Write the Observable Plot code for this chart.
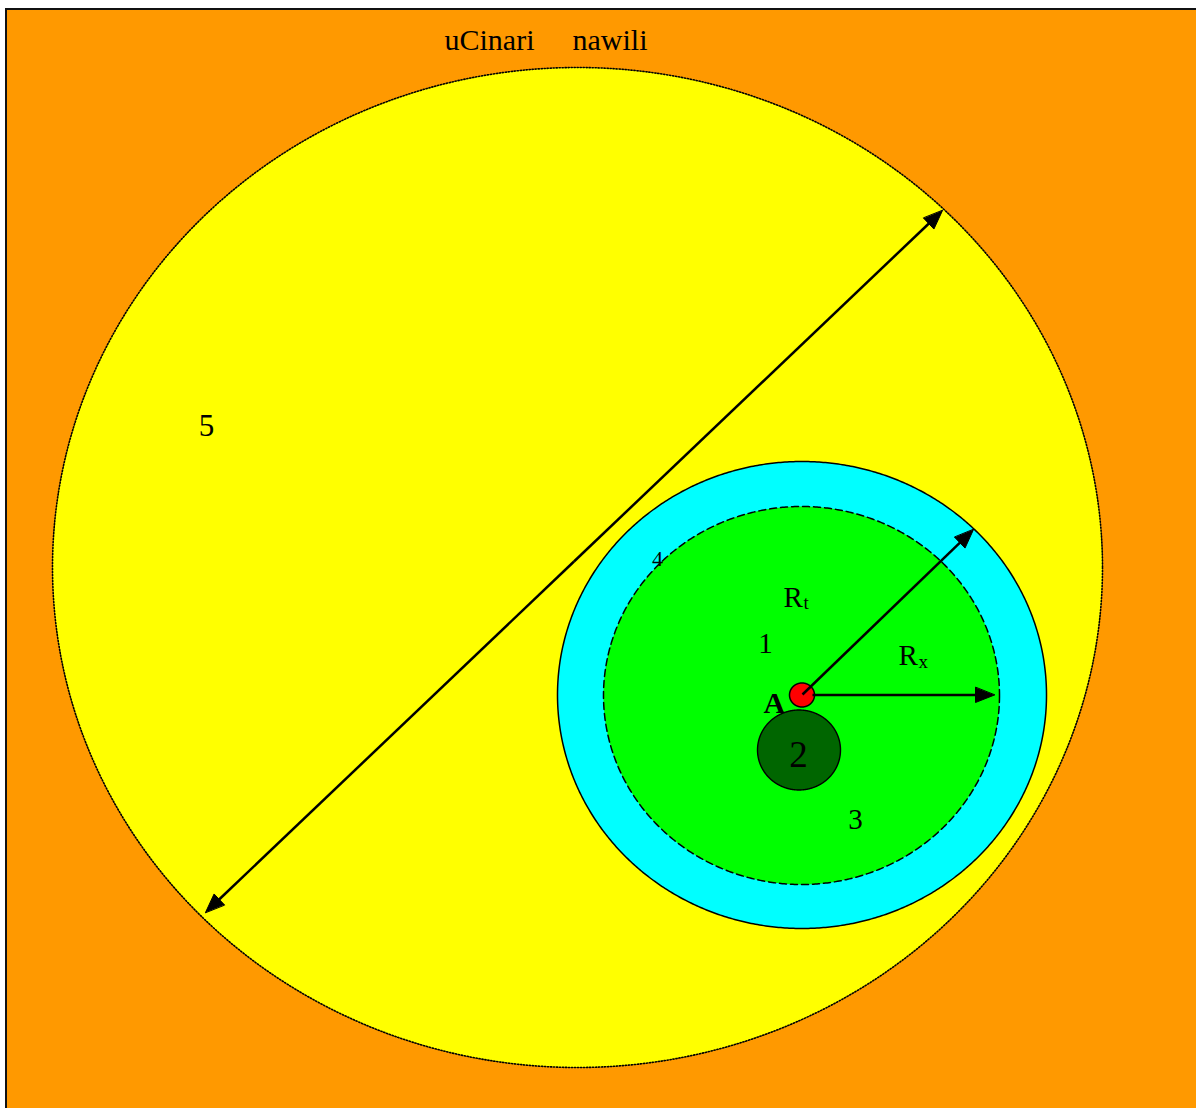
<!DOCTYPE html>
<html>
<head>
<meta charset="utf-8">
<script src="https://cdn.jsdelivr.net/npm/d3@7"></script>
<script src="https://cdn.jsdelivr.net/npm/@observablehq/plot@0.6"></script>
<style>
  html, body { margin: 0; padding: 0; background: #ffffff; }
  svg { display: block; }
</style>
</head>
<body>
<script>
// ---------- data (diagram geometry, in picture units) ----------
const shapeNames   = ["zone5", "zone4", "zone3", "sourceA", "zone2"];
const shapeCx      = [577, 801.5, 801, 801.5, 798.5];
const shapeCy      = [567, 694.5, 695, 694.5, 749.5];
const shapeRx      = [525, 244.5, 198, 12.5, 41.5];
const shapeRy      = [500, 233.5, 189, 12, 40];
const shapeFill    = ["#FFFF00", "#00FFFF", "#00FF00", "#FF0000", "#006600"];
const shapeDash    = ["1.2,1.8", null, "7,4", null, null];

const arrowNames   = ["diameter+", "diameter-", "Rt", "Rx"];
const arrowX1      = [573.5, 573.5, 802, 812];
const arrowY1      = [561, 561, 694, 694.5];
const arrowX2      = [942, 205, 973, 994];
const arrowY2      = [210, 912, 529, 694.5];

const labelText    = ["uCinari", "nawili", "5", "4", "R", "t", "1", "R", "x", "A", "2", "3"];
const labelX       = [444, 572, 206, 657, 783, 803, 765, 898, 918, 763, 798, 855];
const labelY       = [49, 49, 435, 565, 606, 608, 652, 664, 667, 712, 766, 828];
const labelSize    = [30, 30, 31, 22, 29, 19, 29, 29, 19, 30, 37, 29];
const labelAnchor  = ["start", "start", "middle", "middle", "start", "start", "middle", "start", "start", "start", "middle", "middle"];
const labelWeight  = ["normal", "normal", "normal", "normal", "normal", "normal", "normal", "normal", "normal", "bold", "normal", "normal"];

const frameX1 = 6, frameY1 = 9, frameX2 = 1196, frameY2 = 1108;

// ---------- helpers ----------
function ellipsePoints(i) {
  return d3.range(0, 721).map(k => {
    const t = (k / 720) * 2 * Math.PI;
    return {x: shapeCx[i] + shapeRx[i] * Math.cos(t), y: shapeCy[i] + shapeRy[i] * Math.sin(t)};
  });
}
const HEAD_LEN = 19, HEAD_HALF = 7.5;
const shafts = [], heads = [];
arrowNames.forEach((name, i) => {
  const dx = arrowX2[i] - arrowX1[i], dy = arrowY2[i] - arrowY1[i];
  const len = Math.hypot(dx, dy), ux = dx / len, uy = dy / len;
  const bx = arrowX2[i] - ux * HEAD_LEN, by = arrowY2[i] - uy * HEAD_LEN;
  shafts.push({x1: arrowX1[i], y1: arrowY1[i], x2: bx + ux * 2, y2: by + uy * 2});
  heads.push({name, x: arrowX2[i], y: arrowY2[i]});
  heads.push({name, x: bx - uy * HEAD_HALF, y: by + ux * HEAD_HALF});
  heads.push({name, x: bx + uy * HEAD_HALF, y: by - ux * HEAD_HALF});
});
const labels = labelText.map((t, i) => ({
  text: t, x: labelX[i], y: labelY[i], size: labelSize[i], anchor: labelAnchor[i], weight: labelWeight[i]
}));

// ---------- marks ----------
const marks = [
  Plot.rect([{x1: frameX1, x2: frameX2, y1: frameY1, y2: frameY2}], {x1: "x1", x2: "x2", y1: "y1", y2: "y2", fill: "#FF9900"}),
  Plot.ruleY([frameY1 - 0.5], {x1: frameX1 - 1, x2: frameX2, stroke: "#111", strokeWidth: 2}),
  Plot.ruleX([frameX1 - 0.5], {y1: frameY1 - 1, y2: frameY2, stroke: "#111", strokeWidth: 2})
];
// large zones first (5, 4, 3)
[0, 1, 2].forEach(i => {
  marks.push(Plot.line(ellipsePoints(i), {
    x: "x", y: "y", curve: "linear-closed", fill: shapeFill[i], stroke: "#000",
    strokeWidth: i === 0 ? 1.6 : 1.5, strokeDasharray: shapeDash[i]
  }));
});
// well (2)
marks.push(Plot.line(ellipsePoints(4), {x: "x", y: "y", curve: "linear-closed", fill: shapeFill[4], stroke: "#000", strokeWidth: 1.4}));
// source A (red)
marks.push(Plot.line(ellipsePoints(3), {x: "x", y: "y", curve: "linear-closed", fill: shapeFill[3], stroke: "#000", strokeWidth: 1.5}));
// arrows
marks.push(Plot.link(shafts, {x1: "x1", y1: "y1", x2: "x2", y2: "y2", stroke: "#000", strokeWidth: 2.5}));
marks.push(Plot.line(heads, {x: "x", y: "y", z: "name", curve: "linear-closed", fill: "#000", stroke: "#000", strokeWidth: 1}));
// labels
labels.forEach(d => {
  marks.push(Plot.text([d], {
    x: "x", y: "y", text: "text", textAnchor: d.anchor, lineAnchor: "bottom",
    fontSize: d.size, fontWeight: d.weight, fontFamily: "Liberation Serif", fill: "#000"
  }));
});

const chart = Plot.plot({
  width: 1196,
  height: 1108,
  margin: 0,
  x: {domain: [0, 1196], range: [0, 1196], axis: null},
  y: {domain: [0, 1108], range: [0, 1108], axis: null},
  style: {background: "#ffffff", overflow: "visible"},
  marks
});
document.body.appendChild(chart);
</script>
</body>
</html>
